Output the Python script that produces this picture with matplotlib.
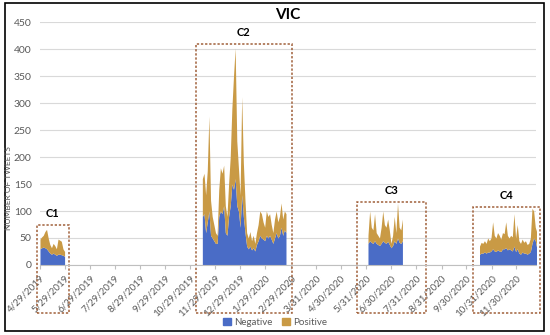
import numpy as np
import pandas as pd
import matplotlib
matplotlib.use("Agg")
import matplotlib.pyplot as plt
import matplotlib.dates as mdates
from matplotlib.patches import Rectangle, Patch
from matplotlib.transforms import blended_transform_factory

plt.rcParams['font.family'] = ['Lato', 'DejaVu Sans']

# tweet counts, one value per 2 days for each cluster (total = negative + positive)
c1_start = "2019-04-29"
c1_total = [48, 52, 55, 62, 66, 50, 38, 32, 40, 36, 30, 48, 46, 44, 30, 25]
c1_neg = [30, 32, 33, 32, 30, 26, 22, 20, 22, 20, 18, 20, 20, 19, 18, 16]

c2_start = "2019-11-13"
c2_total = [160, 170, 130, 175, 276, 120, 90, 75, 60, 55, 140, 180, 170, 185, 110, 90,
            150, 200, 290, 350, 402, 230, 180, 130, 312, 190, 120, 60, 50, 62, 45, 55,
            40, 60, 75, 100, 95, 80, 70, 100, 90, 95, 75, 60, 85, 100, 80, 90, 115, 85,
            100, 95]
c2_neg = [90, 95, 60, 80, 100, 55, 50, 45, 40, 40, 90, 100, 95, 110, 60, 55,
          90, 110, 150, 140, 160, 110, 100, 70, 130, 90, 60, 35, 30, 35, 28, 32,
          26, 38, 45, 55, 50, 48, 45, 55, 50, 55, 48, 40, 50, 60, 50, 55, 70, 55,
          65, 60]

c3_start = "2020-06-02"
c3_total = [55, 100, 70, 65, 95, 60, 55, 50, 70, 100, 75, 70, 85, 65, 40, 55,
            90, 60, 115, 70, 65, 85]
c3_neg = [40, 45, 42, 40, 45, 40, 38, 36, 40, 45, 42, 40, 44, 38, 32, 36,
          45, 40, 50, 42, 40, 45]

c4_start = "2020-10-16"
c4_total = [35, 42, 40, 45, 40, 50, 45, 50, 80, 55, 50, 60, 55, 48, 60, 58, 80, 55,
            50, 55, 52, 95, 50, 75, 45, 40, 48, 42, 45, 38, 40, 50, 105, 100, 70, 60]
c4_neg = [20, 22, 22, 24, 22, 24, 24, 26, 30, 26, 25, 28, 26, 25, 30, 30, 32, 28,
          30, 28, 26, 35, 25, 30, 22, 20, 24, 22, 22, 20, 22, 25, 40, 50, 45, 30]

clusters = ["C1", "C2", "C3", "C4"]
box_from = ["2019-04-25", "2019-11-05", "2020-05-20", "2020-10-08"]
box_to = ["2019-06-03", "2020-03-01", "2020-08-12", "2020-12-29"]
box_top = [74, 409, 117, 107]

tick_dates = ["2019-04-29", "2019-05-29", "2019-06-29", "2019-07-29", "2019-08-29",
              "2019-09-29", "2019-10-29", "2019-11-29", "2019-12-29", "2020-01-29",
              "2020-02-29", "2020-03-31", "2020-04-30", "2020-05-31", "2020-06-30",
              "2020-07-31", "2020-08-31", "2020-09-30", "2020-10-31", "2020-11-30"]

neg_color = "#4A6CC6"
pos_color = "#C99A45"
box_color = "#A0603A"
text_gray = "#595959"

fig = plt.figure(figsize=(5.5, 3.35), dpi=100)
ax = fig.add_axes([0.0727, 0.209, 0.902, 0.725])

for start, total, neg in [(c1_start, c1_total, c1_neg), (c2_start, c2_total, c2_neg),
                          (c3_start, c3_total, c3_neg), (c4_start, c4_total, c4_neg)]:
    dates = pd.date_range(start, periods=len(total), freq="2D")
    ax.fill_between(dates, 0, neg, color=neg_color, lw=0)
    ax.fill_between(dates, neg, total, color=pos_color, lw=0)

ax.set_ylim(0, 450)
ax.set_yticks(np.arange(0, 451, 50))
ax.set_xlim(pd.Timestamp("2019-04-29"), pd.Timestamp("2020-12-24"))
ticks = pd.to_datetime(tick_dates)
ax.set_xticks(ticks)
ax.set_xticklabels([f"{d.month}/{d.day}/{d.year}" for d in ticks], rotation=45,
                   ha="right", rotation_mode="anchor", fontsize=7, color=text_gray)
ax.tick_params(axis="y", length=0, labelsize=7.5, labelcolor=text_gray, pad=6)
ax.tick_params(axis="x", length=3, color="#BFBFBF", pad=3)
ax.grid(axis="y", color="#D9D9D9", lw=0.8)
ax.set_axisbelow(True)
for s in ["top", "right", "left"]:
    ax.spines[s].set_visible(False)
ax.spines["bottom"].set_color("#BFBFBF")

fig.text(0.016, 0.44, "NUMBER OF TWEETS", rotation=90, ha="center", va="center",
         fontsize=6, color=text_gray)
ax.set_title("VIC", fontsize=11, fontweight="bold", pad=-2)

# dashed cluster boxes
trans = blended_transform_factory(ax.transData, ax.transAxes)
for name, d0, d1, top in zip(clusters, box_from, box_to, box_top):
    x0 = mdates.date2num(pd.Timestamp(d0))
    x1 = mdates.date2num(pd.Timestamp(d1))
    ytop = top / 450
    rect = Rectangle((x0, -0.198), x1 - x0, ytop + 0.198, transform=trans,
                     fill=False, ec=box_color, lw=1.1, ls=(0, (1.5, 1.2)), clip_on=False)
    ax.add_patch(rect)
    ax.text((x0 + x1) / 2, ytop + 0.025, name, transform=trans, ha="center",
            va="bottom", fontsize=8, fontweight="bold")

handles = [Patch(color=neg_color, label="Negative"), Patch(color=pos_color, label="Positive")]
fig.legend(handles=handles, loc="center", bbox_to_anchor=(0.5, 0.038), ncol=2,
           frameon=False, fontsize=7, handlelength=0.8, handleheight=0.8,
           columnspacing=1.0, handletextpad=0.3, labelcolor=text_gray)

fig.add_artist(Rectangle((0.009, 0.012), 0.98, 0.979, transform=fig.transFigure,
                         fill=False, ec="black", lw=1.2))

fig.savefig("out.png", dpi=100)
